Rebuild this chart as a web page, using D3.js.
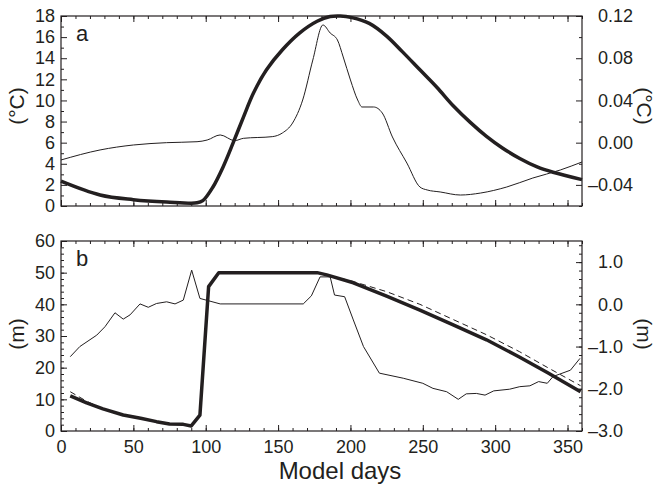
<!DOCTYPE html>
<meta charset="utf-8">
<script src="https://d3js.org/d3.v7.min.js"></script>
<style>
  body { margin: 0; background: #fff; }
  text { font-family: "Liberation Sans", Arial, Helvetica, sans-serif; fill: #231f20; }
</style>
<body>
<div id="chart"></div>
<script>

// x axis (model days)
var dayTicks = [0, 50, 100, 150, 200, 250, 300, 350]
var dayMinor = [0, 10, 20, 30, 40, 50, 60, 70, 80, 90, 100, 110, 120, 130, 140, 150, 160, 170, 180, 190, 200, 210, 220, 230, 240, 250, 260, 270, 280, 290, 300, 310, 320, 330, 340, 350, 360]

// panel a : temperature (left axis, thick) and anomaly (right axis, thin)
var tempDays = [0, 27, 50, 73, 94, 98, 105, 112, 119, 126, 133, 142, 153, 165, 177, 186, 193, 201, 213, 225, 236, 248, 260, 271, 283, 294, 305, 317, 329, 340, 360]
var tempVals = [2.35, 1.04, 0.6, 0.38, 0.3, 0.5, 1.8, 3.7, 6.0, 8.4, 10.7, 12.9, 14.8, 16.4, 17.5, 17.95, 18.0, 17.85, 17.3, 16.1, 14.6, 12.9, 11.2, 9.5, 7.9, 6.6, 5.5, 4.5, 3.7, 3.2, 2.5]
var anomDays = [0, 27, 50, 73, 94, 101, 110, 120, 126, 146, 153, 160, 167, 174, 181, 186, 191, 195, 200, 205, 208, 216, 222, 229, 239, 248, 253, 262, 276, 290, 308, 326, 345, 360]
var anomVals = [-0.0164, -0.0069, -0.0022, 0.0, 0.0009, 0.0025, 0.0073, 0.0019, 0.0041, 0.0057, 0.0092, 0.0186, 0.0404, 0.0783, 0.1115, 0.1039, 0.0973, 0.0812, 0.0594, 0.0404, 0.0338, 0.0338, 0.0281, 0.0054, -0.0193, -0.0420, -0.0448, -0.0467, -0.0496, -0.0477, -0.0420, -0.0335, -0.0259, -0.0183]
var tempTicks = [0, 2, 4, 6, 8, 10, 12, 14, 16, 18]
var tempMinor = [1, 3, 5, 7, 9, 11, 13, 15, 17]
var anomTicks = [-0.04, 0.00, 0.04, 0.08, 0.12]
var anomMinor = [-0.06, -0.02, 0.02, 0.06, 0.10]

// panel b : depth (left axis, thick and dashed) and level (right axis, thin)
var depthDays = [6.4, 17.7, 29, 43, 55, 66, 75, 84.5, 90, 96, 102, 109, 177, 183.6, 202, 225, 248, 271, 294, 317, 336, 359]
var depthVals = [11.1, 8.9, 7.0, 5.05, 4.0, 2.95, 2.2, 2.1, 1.6, 5.0, 45.6, 50.0, 50.0, 49.3, 46.8, 42.6, 38.2, 33.5, 28.8, 23.3, 18.5, 12.4]
var depth2Vals = [12.4, 9.4, 7.0, 5.05, 4.0, 2.95, 2.2, 2.1, 1.6, 5.0, 45.6, 50.0, 50.0, 49.3, 47.2, 44.0, 40.0, 35.2, 30.4, 25.0, 20.1, 14.3]
var levelDays = [6.4, 13, 24.7, 30.4, 37.3, 43, 47.7, 54.6, 60.3, 66, 73, 78.8, 84.5, 90.3, 96, 110, 167.4, 173, 179, 186, 189, 196, 202, 209, 220, 236.5, 250, 257, 266.5, 274.5, 280, 287, 293, 299, 310, 317, 324, 330, 336, 340, 352, 358.6]
var levelVals = [-1.24, -1.00, -0.73, -0.53, -0.20, -0.35, -0.25, 0.01, -0.07, 0.02, 0.06, 0.01, 0.10, 0.81, 0.14, 0.01, 0.01, 0.20, 0.65, 0.65, 0.22, 0.18, -0.37, -1.00, -1.63, -1.75, -1.87, -1.99, -2.07, -2.25, -2.12, -2.11, -2.15, -2.05, -2.01, -1.95, -1.93, -1.83, -1.87, -1.71, -1.56, -1.28]
var depthTicks = [0, 10, 20, 30, 40, 50, 60]
var depthMinor = d3.range(0, 61, 2)
var levelTicks = [-3.0, -2.0, -1.0, 0.0, 1.0]
var levelMinor = d3.range(-30, 16, 2).map(function(d) { return d / 10 })

var width = 657, height = 484
var left = 61, right = 582

var svg = d3.select("#chart").append("svg")
  .attr("width", width)
  .attr("height", height)

var x = d3.scaleLinear().domain([0, 360]).range([left, right])

// panels
var panels = [
  { top: 16, bottom: 206, yl: [0, 18], yr: [-0.06, 0.12], letter: "a",
    lTicks: tempTicks, lMinor: tempMinor, rTicks: anomTicks, rMinor: anomMinor,
    lFmt: function(d) { return d }, rFmt: function(d) { return (d < 0 ? "\u2013" : "") + Math.abs(d).toFixed(2) },
    rLabelX: 51, lTitle: "(\u00b0C)", rTitle: "(\u00b0C)", titleY: 106, xLabels: false },
  { top: 241, bottom: 431, yl: [0, 60], yr: [-3, 1.5], letter: "b",
    lTicks: depthTicks, lMinor: depthMinor, rTicks: levelTicks, rMinor: levelMinor,
    lFmt: function(d) { return d }, rFmt: function(d) { return (d < 0 ? "\u2013" : "") + Math.abs(d).toFixed(1) },
    rLabelX: 41, lTitle: "(m)", rTitle: "(m)", titleY: 334, xLabels: true }
]

panels.forEach(function(p) {
  p.yL = d3.scaleLinear().domain(p.yl).range([p.bottom, p.top])
  p.yR = d3.scaleLinear().domain(p.yr).range([p.bottom, p.top])

  function addAxis(axis, tx, ty, size, values, fmt) {
    var g = svg.append("g")
      .attr("transform", "translate(" + tx + "," + ty + ")")
      .call(axis.tickValues(values).tickSize(size).tickSizeOuter(0).tickFormat(fmt || ""))
    g.select(".domain").remove()
    g.selectAll("line").attr("stroke", "#231f20").attr("stroke-width", 1)
    g.selectAll("text").style("font-size", "18px").attr("fill", "#231f20")
    return g
  }

  // x ticks on bottom and top edges
  addAxis(d3.axisBottom(x), 0, p.bottom, -3, dayMinor)
  addAxis(d3.axisTop(x), 0, p.top, -3, dayMinor)
  addAxis(d3.axisTop(x), 0, p.top, -6, dayTicks)
  addAxis(d3.axisBottom(x).tickPadding(9), 0, p.bottom, -6, dayTicks, p.xLabels ? function(d) { return d } : "")

  // left axis
  addAxis(d3.axisLeft(p.yL), left, 0, -3, p.lMinor)
  addAxis(d3.axisLeft(p.yL).tickPadding(6), left, 0, -6, p.lTicks, p.lFmt)

  // right axis
  addAxis(d3.axisRight(p.yR), right, 0, -3, p.rMinor)
  var ra = addAxis(d3.axisRight(p.yR), right, 0, -6, p.rTicks, p.rFmt)
  ra.selectAll("text").attr("x", p.rLabelX).attr("text-anchor", "end")

  // frame
  svg.append("rect")
    .attr("x", left).attr("y", p.top)
    .attr("width", right - left).attr("height", p.bottom - p.top)
    .attr("fill", "none").attr("stroke", "#231f20").attr("stroke-width", 1.2)

  // panel letter
  svg.append("text")
    .attr("x", 76).attr("y", p.top + 25)
    .style("font-size", "22px")
    .text(p.letter)

  // axis titles
  svg.append("text")
    .attr("transform", "translate(24," + p.titleY + ") rotate(-90)")
    .attr("text-anchor", "middle")
    .style("font-size", "21px")
    .text(p.lTitle)
  svg.append("text")
    .attr("transform", "translate(637," + p.titleY + ") rotate(90)")
    .attr("text-anchor", "middle")
    .style("font-size", "21px")
    .text(p.rTitle)
})

var a = panels[0], b = panels[1]

// panel a lines
svg.append("path")
  .datum(d3.zip(anomDays, anomVals))
  .attr("fill", "none").attr("stroke", "#231f20").attr("stroke-width", 1)
  .attr("d", d3.line().curve(d3.curveMonotoneX)
    .x(function(d) { return x(d[0]) }).y(function(d) { return a.yR(d[1]) }))

svg.append("path")
  .datum(d3.zip(tempDays, tempVals))
  .attr("fill", "none").attr("stroke", "#231f20").attr("stroke-width", 3.5)
  .attr("d", d3.line().curve(d3.curveCatmullRom.alpha(0.5))
    .x(function(d) { return x(d[0]) }).y(function(d) { return a.yL(d[1]) }))

// panel b lines
svg.append("path")
  .datum(d3.zip(levelDays, levelVals))
  .attr("fill", "none").attr("stroke", "#231f20").attr("stroke-width", 1)
  .attr("d", d3.line()
    .x(function(d) { return x(d[0]) }).y(function(d) { return b.yR(d[1]) }))

svg.append("path")
  .datum(d3.zip(depthDays, depth2Vals))
  .attr("fill", "none").attr("stroke", "#231f20").attr("stroke-width", 1)
  .attr("stroke-dasharray", "6,4")
  .attr("d", d3.line()
    .x(function(d) { return x(d[0]) }).y(function(d) { return b.yL(d[1]) }))

svg.append("path")
  .datum(d3.zip(depthDays, depthVals))
  .attr("fill", "none").attr("stroke", "#231f20").attr("stroke-width", 3.5)
  .attr("stroke-linejoin", "round")
  .attr("d", d3.line()
    .x(function(d) { return x(d[0]) }).y(function(d) { return b.yL(d[1]) }))

// x title
svg.append("text")
  .attr("x", 340).attr("y", 479)
  .attr("text-anchor", "middle")
  .style("font-size", "24px")
  .text("Model days")

</script>
</body>
